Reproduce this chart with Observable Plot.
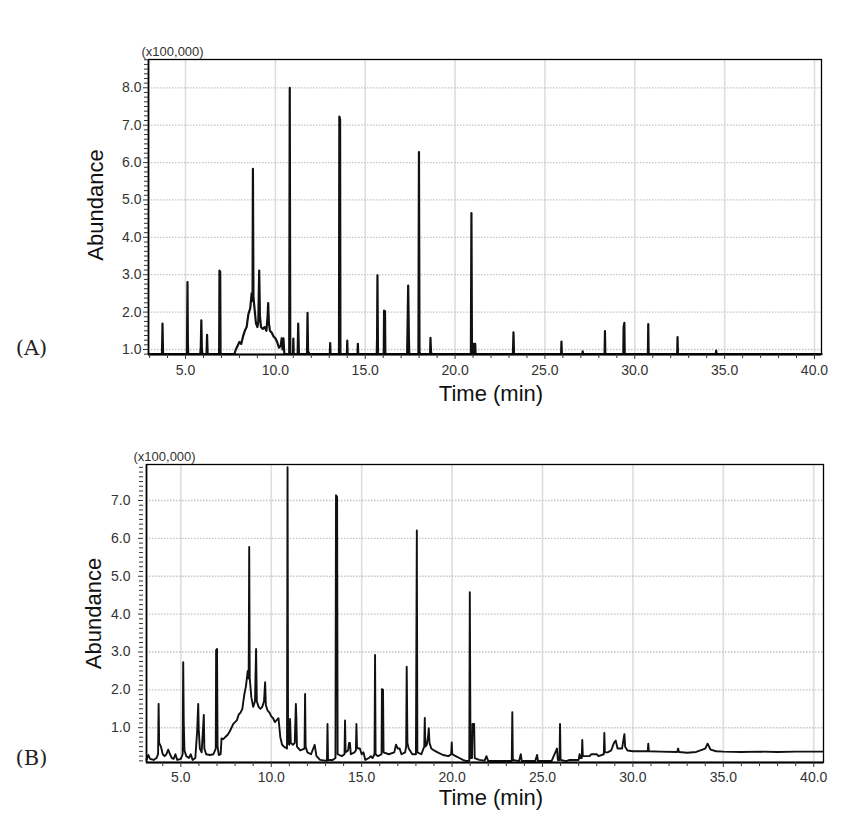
<!DOCTYPE html>
<html><head><meta charset="utf-8">
<script src="https://cdn.jsdelivr.net/npm/d3@7"></script>
<script src="https://cdn.jsdelivr.net/npm/@observablehq/plot@0.6"></script>
<style>
body{margin:0;background:#fff;width:861px;height:829px;overflow:hidden}
#chart svg{display:block}
</style></head><body><div id="chart"></div>
<script>
// ---- Data (abundance in units of 100,000) ----
const timeA = [2.95,3.69,3.72,3.75,5.08,5.11,5.13,5.15,5.82,5.85,5.88,5.91,5.94,6.17,6.20,6.23,6.87,6.89,6.93,6.95,
  7.72,7.80,7.90,8.00,8.10,8.20,8.30,8.40,8.50,8.60,8.68,8.73,8.75,8.78,8.85,8.92,9.00,9.05,9.10,9.14,9.20,9.30,9.40,9.50,9.57,9.60,9.64,9.70,9.80,9.90,10.00,10.10,10.20,10.30,10.35,10.40,10.45,10.50,
  10.77,10.80,10.83,10.98,11.00,11.02,11.24,11.27,11.29,11.31,11.76,11.79,11.82,11.90,13.03,13.05,13.07,13.54,13.56,13.60,13.62,
  13.98,14.00,14.02,14.57,14.59,14.61,15.64,15.66,15.68,15.71,16.03,16.05,16.10,16.12,17.33,17.35,17.39,17.43,17.45,
  17.96,17.99,18.02,18.05,18.61,18.63,18.66,18.68,20.88,20.91,20.94,21.03,21.05,21.12,21.14,23.22,23.25,23.28,
  25.90,25.92,25.94,27.08,27.10,27.12,28.32,28.34,28.36,29.36,29.38,29.42,29.44,30.73,30.75,30.77,32.36,32.38,32.40,34.51,34.53,34.55,40.40];
const abundA = [0.88,0.88,1.69,0.88,0.88,2.80,1.20,0.88,0.88,1.05,1.78,1.00,0.88,0.88,1.39,0.88,0.88,3.11,3.08,0.88,
  0.88,1.00,1.10,1.20,1.15,1.35,1.50,1.60,1.95,2.10,2.50,2.30,5.83,2.40,2.05,1.70,1.60,1.75,3.11,1.90,1.60,1.55,1.60,1.50,1.90,2.24,1.70,1.50,1.45,1.35,1.30,1.20,1.05,1.10,1.30,1.00,1.30,0.88,
  0.88,8.00,0.88,0.88,1.29,0.88,0.88,1.69,1.29,0.88,0.88,1.98,0.95,0.88,0.88,1.17,0.88,0.88,7.23,7.15,0.88,
  0.88,1.24,0.88,0.88,1.15,0.88,0.88,1.30,2.98,0.88,0.88,2.04,2.02,0.88,0.88,1.40,2.71,1.30,0.88,
  0.88,6.28,0.95,0.88,0.88,1.31,0.95,0.88,0.88,4.65,0.88,0.88,1.15,1.15,0.88,0.88,1.46,0.88,
  0.88,1.21,0.88,0.88,0.95,0.88,0.88,1.49,0.88,0.88,1.60,1.71,0.88,0.88,1.68,0.88,0.88,1.33,0.88,0.88,0.97,0.88,0.88];

const timeB = [3.10,3.20,3.30,3.50,3.65,3.74,3.77,3.80,3.90,4.00,4.10,4.20,4.30,4.40,4.50,4.60,4.70,4.80,5.00,5.10,5.13,5.16,5.20,5.30,5.45,5.55,5.65,5.80,5.90,5.96,5.99,6.05,6.15,6.27,6.30,6.40,6.60,6.80,6.93,6.95,7.00,7.03,7.10,7.20,7.25,7.35,7.45,7.60,7.70,7.80,7.90,8.00,8.10,8.20,8.30,8.40,8.50,8.60,8.70,8.75,8.78,8.81,8.90,9.00,9.10,9.16,9.20,9.30,9.40,9.50,9.60,9.66,9.70,9.80,9.90,10.00,10.10,10.20,10.30,10.40,10.50,10.60,10.70,10.87,10.90,10.93,11.00,11.04,11.08,11.20,11.30,11.36,11.39,11.42,11.60,11.84,11.87,11.90,12.00,12.20,12.40,12.50,12.70,13.00,13.08,13.11,13.14,13.40,13.55,13.58,13.64,13.67,13.90,14.05,14.08,14.11,14.25,14.30,14.35,14.40,14.60,14.68,14.71,14.74,14.80,14.90,15.00,15.10,15.20,15.40,15.50,15.60,15.71,15.74,15.77,15.90,16.10,16.12,16.18,16.21,16.50,16.80,16.90,17.00,17.10,17.20,17.40,17.46,17.49,17.53,17.60,17.80,18.00,18.05,18.08,18.30,18.46,18.49,18.52,18.60,18.68,18.71,18.75,18.85,19.00,19.20,19.50,19.80,19.95,19.98,20.01,20.20,20.40,20.60,20.80,20.95,20.98,21.02,21.10,21.13,21.22,21.25,21.50,21.80,21.90,22.00,22.50,23.00,23.30,23.33,23.36,23.70,23.80,23.85,24.60,24.70,24.75,25.50,25.80,25.85,25.94,25.97,26.00,26.30,26.50,27.00,27.05,27.10,27.17,27.20,27.23,27.60,27.70,28.00,28.10,28.39,28.42,28.45,28.60,28.80,28.95,29.05,29.15,29.40,29.50,29.53,29.57,29.70,30.00,30.50,30.82,30.85,30.88,31.50,32.45,32.50,32.55,33.00,33.50,34.00,34.13,34.30,34.60,35.00,36.00,37.00,38.00,39.00,40.50];
const abundB = [0.15,0.28,0.18,0.15,0.20,0.30,1.63,0.60,0.50,0.30,0.25,0.30,0.42,0.30,0.20,0.18,0.30,0.15,0.18,0.30,2.73,1.15,0.40,0.25,0.20,0.30,0.15,0.20,0.90,1.63,0.95,0.45,0.35,1.34,0.45,0.30,0.28,0.30,0.45,3.05,3.08,0.50,0.28,0.30,0.72,0.70,0.75,0.82,0.90,1.00,1.10,1.15,1.20,1.35,1.40,1.50,1.85,2.10,2.50,2.30,5.77,2.30,1.80,1.55,1.70,3.08,1.70,1.55,1.50,1.55,1.70,2.20,1.60,1.45,1.40,1.30,1.25,1.15,1.20,1.25,0.75,0.55,0.50,0.45,7.88,0.60,0.55,1.23,0.60,0.55,0.60,1.63,1.23,0.50,0.40,0.45,1.89,0.50,0.35,0.30,0.55,0.25,0.15,0.13,0.13,1.10,0.15,0.15,0.20,7.14,7.10,0.30,0.25,0.30,1.19,0.35,0.40,0.60,0.60,0.30,0.35,0.40,1.10,0.50,0.45,0.45,0.30,0.35,0.15,0.20,0.25,0.20,0.30,2.92,0.30,0.25,0.30,2.02,2.00,0.35,0.30,0.35,0.55,0.45,0.45,0.30,0.35,0.50,2.61,0.60,0.45,0.30,0.30,6.21,0.35,0.30,0.50,1.26,0.50,0.55,0.80,0.99,0.60,0.45,0.40,0.35,0.28,0.25,0.30,0.61,0.30,0.25,0.20,0.15,0.12,0.13,4.58,0.20,0.20,1.10,1.10,0.20,0.15,0.13,0.25,0.12,0.12,0.12,0.12,1.41,0.15,0.12,0.30,0.12,0.12,0.28,0.12,0.12,0.45,0.15,0.15,1.10,0.15,0.12,0.15,0.15,0.30,0.20,0.20,0.68,0.25,0.25,0.30,0.30,0.25,0.30,0.86,0.35,0.35,0.40,0.60,0.66,0.45,0.45,0.75,0.83,0.50,0.40,0.38,0.38,0.38,0.58,0.38,0.37,0.36,0.45,0.36,0.34,0.36,0.45,0.58,0.42,0.38,0.37,0.36,0.37,0.36,0.37,0.37];

// ---- Ticks & labels ----
const xTickValues = [5, 10, 15, 20, 25, 30, 35, 40];
const xMinorTicks = [3,4,6,7,8,9,11,12,13,14,16,17,18,19,21,22,23,24,26,27,28,29,31,32,33,34,36,37,38,39];
const yTicksA = [1, 2, 3, 4, 5, 6, 7, 8];
const yTicksB = [1, 2, 3, 4, 5, 6, 7];
const panelLabels = ["(A)", "(B)"];
const yUnit = "(x100,000)";
const xTitle = "Time (min)";
const yTitle = "Abundance";

const fmt = d3.format(".1f");
const FONT = "Arial, 'Liberation Sans', sans-serif";

function panel(cfg) {
  const data = cfg.time.map((t, i) => ({t, v: cfg.abund[i]}));
  const yMinor = d3.range(0, 9.01, 0.125).filter(v => v > cfg.ydom[0] && v < cfg.ydom[1] && !Number.isInteger(v));
  const xMinor = xMinorTicks.filter(v => v > cfg.xdom[0] && v < cfg.xdom[1]);
  return Plot.plot({
    width: 861, height: cfg.height,
    marginLeft: cfg.ml, marginRight: cfg.mr, marginTop: cfg.mt, marginBottom: cfg.mb,
    style: {fontFamily: FONT, background: "white"},
    x: {domain: cfg.xdom},
    y: {domain: cfg.ydom},
    marks: [
      Plot.ruleX(xTickValues, {stroke: "#dedede", strokeWidth: 1.6}),
      Plot.ruleY(cfg.yTicks, {stroke: "#c4c4c4", strokeWidth: 1.3, strokeDasharray: "1.5,1.5"}),
      Plot.line(data, {x: "t", y: "v", stroke: "#111", strokeWidth: cfg.sw}),
      Plot.frame({stroke: "black", strokeWidth: 1.3}),
      Plot.ruleY([cfg.ydom[0]], {stroke: "black", strokeWidth: 2}),
      Plot.ruleX([cfg.xdom[0]], {stroke: "black", strokeWidth: 1.6}),
      Plot.axisX(xMinor, {tickSize: 4, tickFormat: () => "", label: null, color: "#333"}),
      Plot.axisX(xTickValues, {tickSize: 5, tickPadding: cfg.xpad, tickFormat: fmt, label: null, fontSize: 14, color: "#333"}),
      Plot.axisY(yMinor, {tickSize: 4, tickFormat: () => "", label: null, color: "#333", dx: cfg.ydx}),
      Plot.axisY(cfg.yTicks, {tickSize: 5, tickPadding: cfg.ypad, tickFormat: fmt, label: null, fontSize: 14, color: "#333", dx: cfg.ydx}),
      Plot.text([yUnit], {frameAnchor: "top-left", textAnchor: "start", lineAnchor: "middle", dx: cfg.unitDx, dy: -8, fontSize: 13, fill: "#333"}),
      Plot.text([yTitle], {frameAnchor: "left", textAnchor: "middle", lineAnchor: "middle", rotate: -90, dx: cfg.titleDx, dy: cfg.titleDy, fontSize: 22, fill: "#111"}),
      Plot.text([xTitle], {frameAnchor: "bottom", textAnchor: "middle", lineAnchor: "middle", dx: 6, dy: cfg.xtitleDy, fontSize: 22, fill: "#111"}),
      Plot.text([cfg.label], {frameAnchor: "bottom-left", textAnchor: "middle", lineAnchor: "middle", dx: cfg.labelDx, dy: cfg.labelDy, fontSize: 21, fontFamily: "'DejaVu Serif', 'Liberation Serif', serif", fill: "#222", letterSpacing: "3px"})
    ]
  });
}

const chart = document.getElementById("chart");
chart.append(panel({
  time: timeA, abund: abundA, yTicks: yTicksA, label: panelLabels[0],
  height: 415, ml: 148, mr: 40, mt: 59, mb: 61,
  xdom: [2.94, 40.39], ydom: [0.866, 8.757], sw: 2.2,
  xpad: 6, ypad: 2, ydx: 0, unitDx: -7, titleDx: -53, titleDy: -2, xtitleDy: 39,
  labelDx: -117, labelDy: -6
}));
chart.append(panel({
  time: timeB, abund: abundB, yTicks: yTicksB, label: panelLabels[1],
  height: 414, ml: 146, mr: 38, mt: 49, mb: 67,
  xdom: [3.1, 40.54], ydom: [0.082, 7.95], sw: 1.9,
  xpad: 5, ypad: 8, ydx: -3, unitDx: -13, titleDx: -53, titleDy: 0, xtitleDy: 35,
  labelDx: -115, labelDy: -4
}));
</script></body></html>
